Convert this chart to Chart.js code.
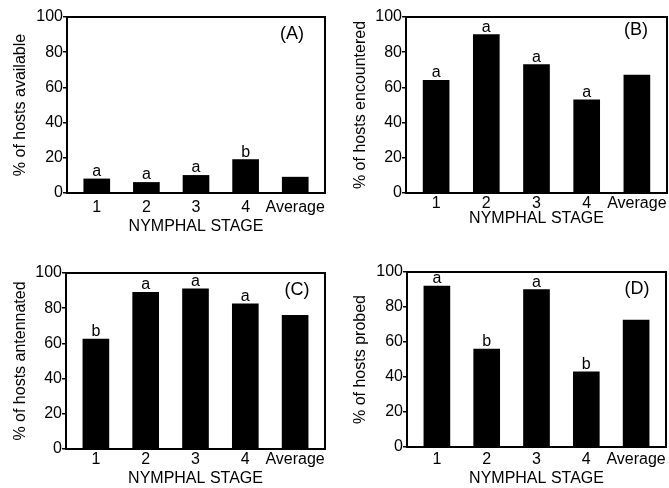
<!DOCTYPE html>
<html><head><meta charset="utf-8">
<script src="https://cdn.jsdelivr.net/npm/chart.js@4.4.1/dist/chart.umd.min.js"></script>
<style>
html,body{margin:0;padding:0;background:#fff;width:669px;height:488px;overflow:hidden}
canvas{position:absolute}
</style></head><body>
<canvas id="cA" width="334" height="244" style="left:0px;top:0px"></canvas>
<canvas id="cB" width="335" height="244" style="left:334px;top:0px"></canvas>
<canvas id="cC" width="334" height="244" style="left:0px;top:244px"></canvas>
<canvas id="cD" width="335" height="244" style="left:334px;top:244px"></canvas>
<script>
// ---- data ----
const categories = ['1', '2', '3', '4', 'Average'];
const availableValues   = [8, 6, 10, 19, 9];
const encounteredValues = [64, 90, 73, 53, 67];
const antennatedValues  = [62.5, 89, 91, 82.5, 76];
const probedValues      = [92, 56, 90, 43, 72.5];
const availableLetters   = ['a', 'a', 'a', 'b', ''];
const encounteredLetters = ['a', 'a', 'a', 'a', ''];
const antennatedLetters  = ['b', 'a', 'a', 'a', ''];
const probedLetters      = ['a', 'b', 'a', 'b', ''];
const yTickValues = [0, 20, 40, 60, 80, 100];
const panelTags = ['(A)', '(B)', '(C)', '(D)'];
const yTitles = ['% of hosts available', '% of hosts encountered', '% of hosts antennated', '% of hosts probed'];
const xTitle = 'NYMPHAL STAGE';

// ---- layout / style ----
const FONT = "'Liberation Sans', Arial, Helvetica, sans-serif";
const panels = [
  {id:'cA', values:availableValues,   letters:availableLetters,   tag:panelTags[0], yTitle:yTitles[0],
   padTop:17, padRight:9, yWidth:67, xHeight:51, tickPad:5, xTitlePad:8, yTitlePad:11, tagDx:33, tagDy:17},
  {id:'cB', values:encounteredValues, letters:encounteredLetters, tag:panelTags[1], yTitle:yTitles[1],
   padTop:17, padRight:2, yWidth:72, xHeight:51, tickPad:1, xTitlePad:16, yTitlePad:17, tagDx:31, tagDy:13},
  {id:'cC', values:antennatedValues,  letters:antennatedLetters,  tag:panelTags[2], yTitle:yTitles[2],
   padTop:29, padRight:9, yWidth:66, xHeight:39, tickPad:1, xTitlePad:0, yTitlePad:11, tagDx:28, tagDy:17},
  {id:'cD', values:probedValues,      letters:probedLetters,      tag:panelTags[3], yTitle:yTitles[3],
   padTop:28, padRight:2, yWidth:73, xHeight:41, tickPad:3, xTitlePad:0, yTitlePad:17, tagDx:29, tagDy:17}
];

const framePlugin = {
  id: 'frame',
  afterDraw(chart) {
    const {ctx, chartArea: a} = chart;
    ctx.save();
    ctx.strokeStyle = '#000';
    ctx.lineWidth = 2;
    ctx.beginPath();
    ctx.moveTo(a.left - 1, a.top);
    ctx.lineTo(a.right, a.top);
    ctx.lineTo(a.right, a.bottom + 1);
    ctx.stroke();
    ctx.restore();
  }
};

const lettersPlugin = {
  id: 'letters',
  afterDatasetsDraw(chart, args, opts) {
    const {ctx, chartArea: a} = chart;
    const meta = chart.getDatasetMeta(0);
    ctx.save();
    ctx.fillStyle = '#000';
    ctx.font = '16px ' + FONT;
    ctx.textAlign = 'center';
    ctx.textBaseline = 'alphabetic';
    meta.data.forEach((bar, i) => {
      const t = opts.letters[i];
      if (t) ctx.fillText(t, bar.x, bar.y - 3);
    });
    ctx.font = '18px ' + FONT;
    ctx.textBaseline = 'middle';
    ctx.fillText(opts.tag, a.right - opts.tagDx, a.top + opts.tagDy);
    ctx.restore();
  }
};

panels.forEach(p => {
  new Chart(document.getElementById(p.id), {
    type: 'bar',
    data: {
      datasets: [{
        data: p.values.map((v, i) => ({x: i, y: v})),
        backgroundColor: '#000',
        borderWidth: 0,
        barThickness: 26
      }]
    },
    plugins: [framePlugin, lettersPlugin],
    options: {
      responsive: false,
      animation: false,
      devicePixelRatio: 1,
      layout: {padding: {top: p.padTop, right: p.padRight, left: 0, bottom: 0}},
      plugins: {
        legend: {display: false},
        tooltip: {enabled: false},
        letters: {letters: p.letters, tag: p.tag, tagDx: p.tagDx, tagDy: p.tagDy}
      },
      scales: {
        x: {
          type: 'linear',
          offset: false,
          min: -0.6,
          max: 4.6,
          afterBuildTicks: s => { s.ticks = categories.map((c, i) => ({value: i})); },
          afterFit: s => { s.height = p.xHeight; },
          grid: {display: false, drawTicks: false, tickLength: 0},
          border: {display: true, color: '#000', width: 2},
          ticks: {
            color: '#000', font: {family: FONT, size: 16}, padding: p.tickPad,
            maxRotation: 0, autoSkip: false,
            callback: v => categories[v]
          },
          title: {display: true, text: xTitle, color: '#000', font: {family: FONT, size: 16},
                  padding: {top: 0, bottom: p.xTitlePad}}
        },
        y: {
          min: 0,
          max: 100,
          afterBuildTicks: s => { s.ticks = yTickValues.map(v => ({value: v})); },
          afterFit: s => { s.width = p.yWidth; },
          grid: {display: true, drawOnChartArea: false, drawTicks: true, tickLength: 4, color: '#000', lineWidth: 1.5},
          border: {display: true, color: '#000', width: 2},
          ticks: {color: '#000', font: {family: FONT, size: 16}, padding: 0},
          title: {display: true, text: p.yTitle, color: '#000', font: {family: FONT, size: 16},
                  padding: {top: p.yTitlePad, bottom: 0}}
        }
      }
    }
  });
});
</script>
</body></html>
